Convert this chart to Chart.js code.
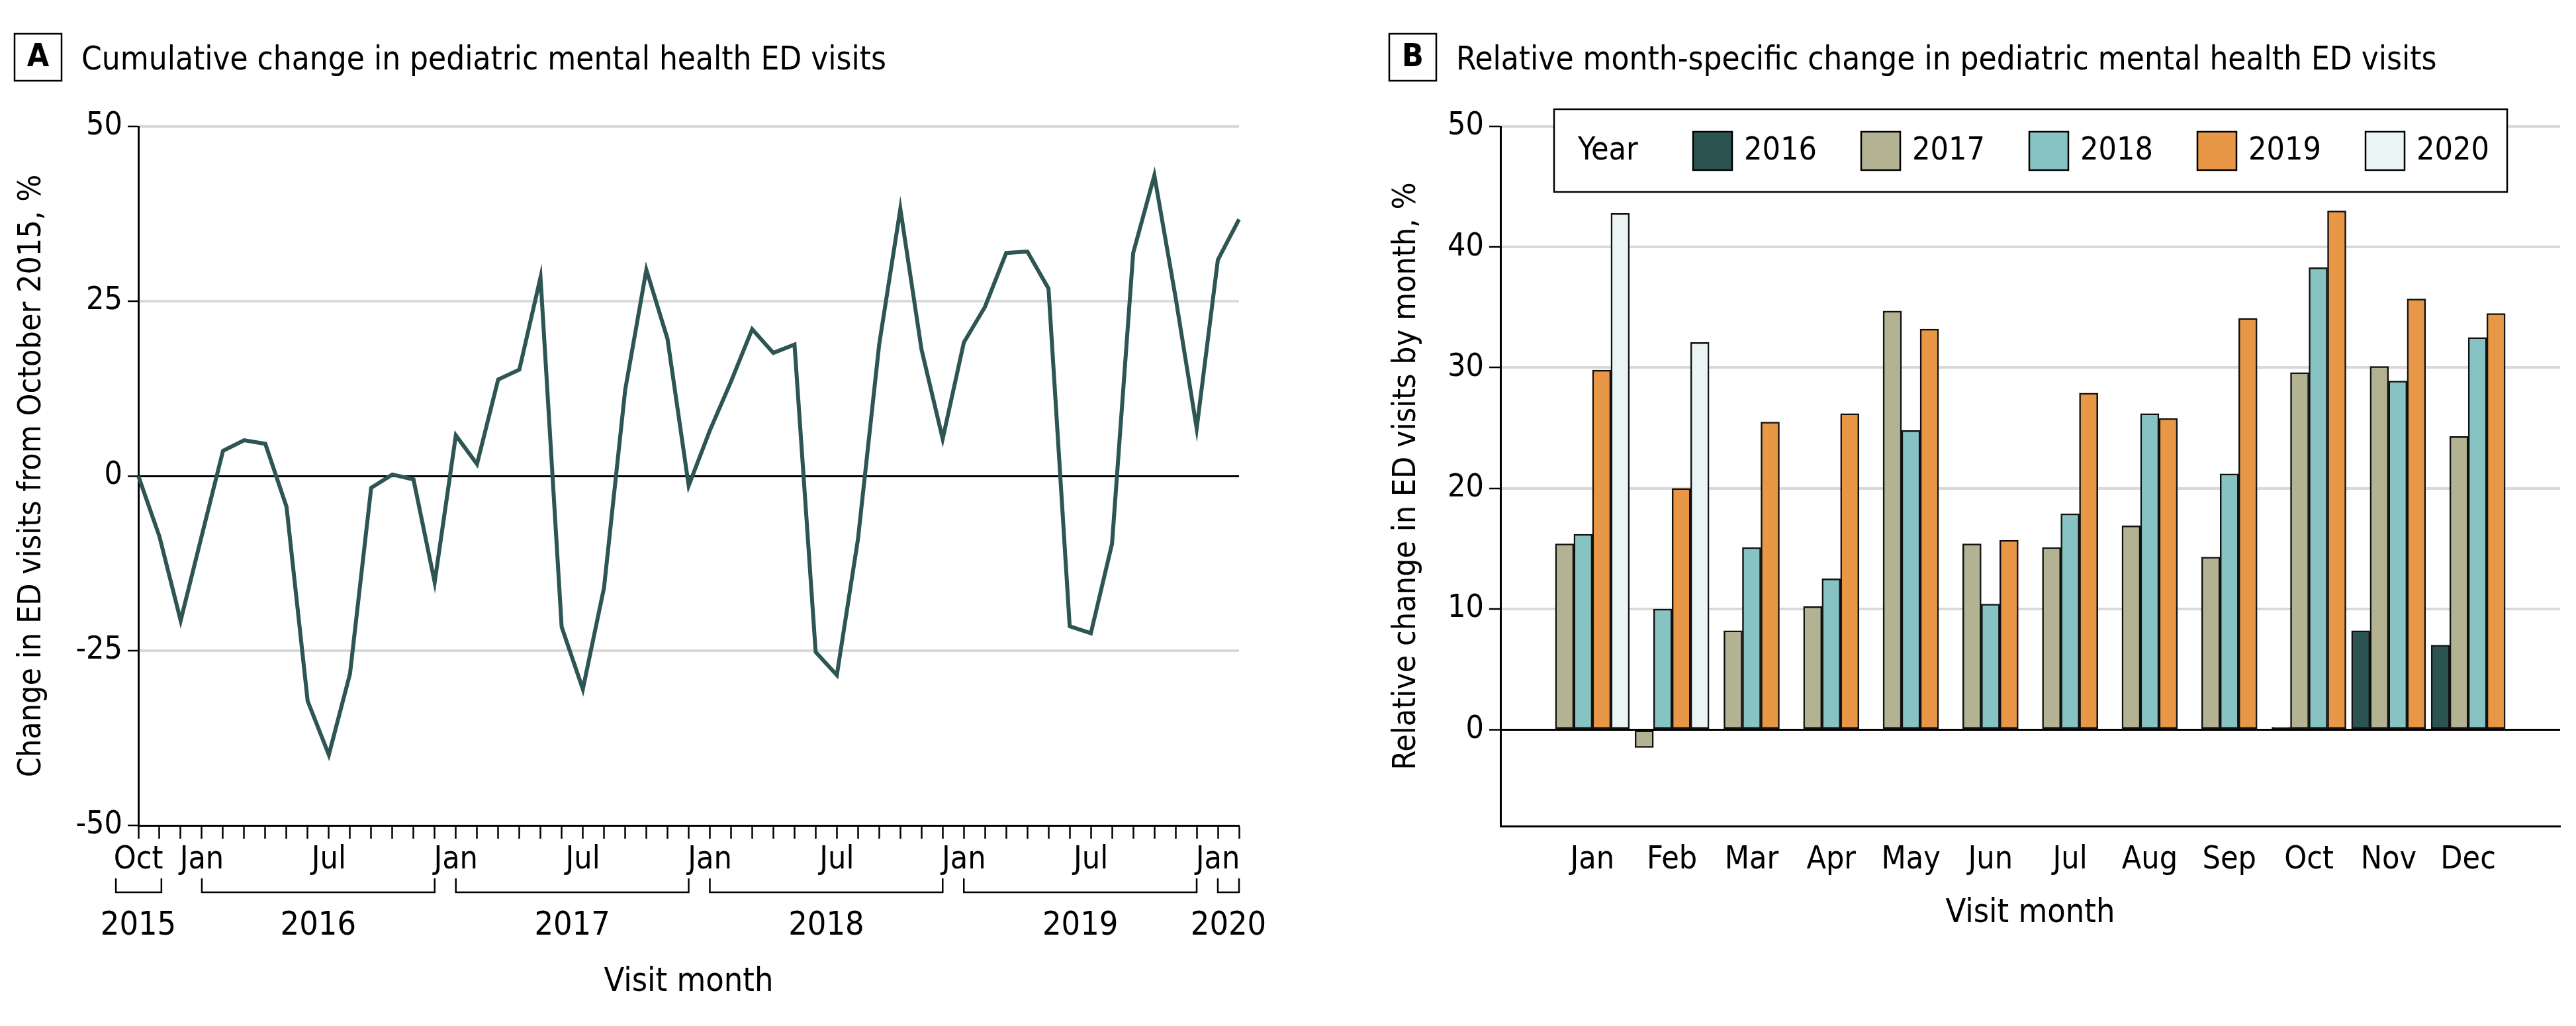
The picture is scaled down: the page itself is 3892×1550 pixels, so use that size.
<!DOCTYPE html>
<html>
<head>
<meta charset="utf-8">
<script src="https://cdn.jsdelivr.net/npm/chart.js@4.4.1/dist/chart.umd.min.js"></script>
<style>
  html, body { margin: 0; padding: 0; background: #fff; }
  #wrap { position: relative; width: 3892px; height: 1550px; }
  canvas { position: absolute; top: 0; }
  #cumChart { left: 0; width: 1950px; height: 1550px; }
  #monthChart { left: 1950px; width: 1942px; height: 1550px; }
</style>
</head>
<body>
<div id="wrap">
  <canvas id="cumChart" width="1950" height="1550"></canvas>
  <canvas id="monthChart" width="1942" height="1550"></canvas>
</div>
<script>
const FONT = '"Liberation Sans Narrow", "DejaVu Sans Condensed", sans-serif';
const INK = '#000';
const GRID = '#d9d9d9';

// ---- panel A: cumulative change ----
const visitMonths = [
    'Oct 2015', 'Nov 2015', 'Dec 2015',
    'Jan 2016', 'Feb 2016', 'Mar 2016', 'Apr 2016', 'May 2016', 'Jun 2016',
    'Jul 2016', 'Aug 2016', 'Sep 2016', 'Oct 2016', 'Nov 2016', 'Dec 2016',
    'Jan 2017', 'Feb 2017', 'Mar 2017', 'Apr 2017', 'May 2017', 'Jun 2017',
    'Jul 2017', 'Aug 2017', 'Sep 2017', 'Oct 2017', 'Nov 2017', 'Dec 2017',
    'Jan 2018', 'Feb 2018', 'Mar 2018', 'Apr 2018', 'May 2018', 'Jun 2018',
    'Jul 2018', 'Aug 2018', 'Sep 2018', 'Oct 2018', 'Nov 2018', 'Dec 2018',
    'Jan 2019', 'Feb 2019', 'Mar 2019', 'Apr 2019', 'May 2019', 'Jun 2019',
    'Jul 2019', 'Aug 2019', 'Sep 2019', 'Oct 2019', 'Nov 2019', 'Dec 2019',
    'Jan 2020', 'Feb 2020'
];
const cumulativeChange = [
    0, -8.7, -20.7,
    -8.5, 3.6, 5.1, 4.6, -4.4, -32.2, -39.9, -28.3, -1.7, 0.2, -0.5, -15.2,
    5.8, 1.7, 13.8, 15.2, 28.4, -21.6, -30.5, -16.0, 12.3, 29.5, 19.6, -1.4,
    6.5, 13.5, 21.0, 17.6, 18.8, -25.2, -28.5, -9.0, 18.8, 38.2, 18.1, 5.3,
    19.1, 24.2, 31.9, 32.1, 26.8, -21.5, -22.5, -9.7, 31.9, 43.0, 25.6, 6.8,
    30.9, 36.7
];
const labelledMonthsA = ['Oct 2015', 'Jan 2016', 'Jul 2016', 'Jan 2017', 'Jul 2017',
    'Jan 2018', 'Jul 2018', 'Jan 2019', 'Jul 2019', 'Jan 2020'];
const yTicksA = [-50, -25, 0, 25, 50];
const yearLabelsA = ['2015', '2016', '2017', '2018', '2019', '2020'];
// bracket ends and label centre for each year, in month-axis units
const yearSpansA = [[-1.06, 1.09], [3, 14], [15, 26], [27, 38], [39, 50], [51, 52]];
const yearCentersA = [0, 8.5, 20.5, 32.5, 44.5, 51.5];

// ---- panel B: month-specific change ----
const monthNames = ['Jan', 'Feb', 'Mar', 'Apr', 'May', 'Jun', 'Jul', 'Aug', 'Sep', 'Oct', 'Nov', 'Dec'];
const yearNames = ['2016', '2017', '2018', '2019', '2020'];
const change2016 = [null, null, null, null, null, null, null, null, null, 0.2, 8.2, 7.0];
const change2017 = [15.4, -1.5, 8.2, 10.2, 34.7, 15.4, 15.1, 16.9, 14.3, 29.6, 30.1, 24.3];
const change2018 = [16.2, 10.0, 15.1, 12.5, 24.8, 10.4, 17.9, 26.2, 21.2, 38.3, 28.9, 32.5];
const change2019 = [29.8, 20.0, 25.5, 26.2, 33.2, 15.7, 27.9, 25.8, 34.1, 43.0, 35.7, 34.5];
const change2020 = [42.8, 32.1, null, null, null, null, null, null, null, null, null, null];
const yTicksB = [0, 10, 20, 30, 40, 50];
const yearColors = ['#2b5352', '#b3b394', '#86c3c2', '#e79746', '#eaf4f4'];
const legendTitle = 'Year';

Chart.defaults.font.family = FONT;
Chart.defaults.color = INK;

// boxed panel letter plus heading
const panelTitle = {
    id: 'panelTitle',
    afterDraw(chart, args, opts) {
        const ctx = chart.ctx;
        ctx.save();
        ctx.lineWidth = 2.5;
        ctx.strokeStyle = INK;
        ctx.strokeRect(opts.boxX, 51, 71, 71);
        ctx.fillStyle = INK;
        ctx.font = 'bold 48px ' + FONT;
        ctx.textAlign = 'center';
        ctx.textBaseline = 'middle';
        ctx.fillText(opts.letter, opts.boxX + 35.5, 88);
        ctx.font = '49px ' + FONT;
        ctx.textAlign = 'left';
        ctx.textBaseline = 'alphabetic';
        ctx.fillText(opts.text, opts.textX, 105);
        ctx.restore();
    }
};

// year brackets under the month ticks of panel A
const yearBrackets = {
    id: 'yearBrackets',
    afterDraw(chart) {
        const x = chart.scales.x;
        const ctx = chart.ctx;
        ctx.save();
        ctx.strokeStyle = INK;
        ctx.lineWidth = 2.5;
        ctx.fillStyle = INK;
        ctx.font = '50px ' + FONT;
        ctx.textAlign = 'center';
        ctx.textBaseline = 'middle';
        yearSpansA.forEach(([a, b], i) => {
            const x1 = x.getPixelForValue(a);
            const x2 = x.getPixelForValue(b);
            ctx.beginPath();
            ctx.moveTo(x1, 1327);
            ctx.lineTo(x1, 1348);
            ctx.lineTo(x2, 1348);
            ctx.lineTo(x2, 1327);
            ctx.stroke();
            ctx.fillText(yearLabelsA[i], x.getPixelForValue(yearCentersA[i]), 1399);
        });
        ctx.restore();
    }
};

// boxed horizontal legend with a "Year" caption
const yearLegend = {
    id: 'yearLegend',
    afterDatasetsDraw(chart) {
        const ctx = chart.ctx;
        ctx.save();
        ctx.fillStyle = '#fff';
        ctx.fillRect(398, 165, 1440, 125);
        ctx.lineWidth = 2.5;
        ctx.strokeStyle = INK;
        ctx.strokeRect(398, 165, 1440, 125);
        ctx.font = '48px ' + FONT;
        ctx.textAlign = 'left';
        ctx.textBaseline = 'middle';
        ctx.fillStyle = INK;
        ctx.fillText(legendTitle, 434, 229);
        chart.data.datasets.forEach((ds, i) => {
            const sx = 608 + i * 254;
            ctx.fillStyle = ds.backgroundColor;
            ctx.fillRect(sx, 199, 59, 58);
            ctx.strokeRect(sx, 199, 59, 58);
            ctx.fillStyle = INK;
            ctx.fillText(ds.label, sx + 77, 229);
        });
        ctx.restore();
    }
};

const tickFont = { size: 48 };

new Chart(document.getElementById('cumChart'), {
    type: 'line',
    data: {
        labels: visitMonths,
        datasets: [{
            data: cumulativeChange,
            borderColor: '#2d5553',
            borderWidth: 6,
            pointRadius: 0,
            tension: 0,
            fill: false
        }]
    },
    options: {
        responsive: false,
        animation: false,
        devicePixelRatio: 1,
        layout: { padding: { left: 0, right: 78, top: 191, bottom: 0 } },
        plugins: {
            legend: { display: false },
            tooltip: { enabled: false },
            panelTitle: { letter: 'A', boxX: 22, textX: 123,
                text: 'Cumulative change in pediatric mental health ED visits' }
        },
        scales: {
            x: {
                offset: false,
                grid: { drawOnChartArea: false, color: INK, tickColor: INK, tickLength: 20, tickWidth: 2.5 },
                border: { display: true, color: INK, width: 3 },
                ticks: {
                    autoSkip: false, maxRotation: 0, padding: 4, font: tickFont, color: INK,
                    callback(value) {
                        const lab = this.getLabelForValue(value);
                        return labelledMonthsA.includes(lab) ? lab.split(' ')[0] : '';
                    }
                },
                title: { display: true, text: 'Visit month', font: { size: 50 }, color: INK, padding: { bottom: 36 } },
                afterFit(scale) { scale.height = 303; }
            },
            y: {
                min: -50, max: 50,
                afterBuildTicks(scale) { scale.ticks = yTicksA.map(v => ({ value: v })); },
                ticks: { padding: 8, font: tickFont, color: INK },
                grid: {
                    color: c => c.tick.value === 0 ? INK : (c.tick.value === -50 ? 'rgba(0,0,0,0)' : GRID),
                    lineWidth: c => c.tick.value === 0 ? 3 : 4,
                    tickColor: INK, tickLength: 16, tickWidth: 2.5
                },
                border: { display: true, color: INK, width: 3 },
                title: { display: true, text: 'Change in ED visits from October 2015, %',
                    font: { size: 48 }, color: INK, padding: { top: 20 } },
                afterFit(scale) { scale.width = 209; }
            }
        }
    },
    plugins: [panelTitle, yearBrackets]
});

const seriesB = [change2016, change2017, change2018, change2019, change2020];

new Chart(document.getElementById('monthChart'), {
    type: 'bar',
    data: {
        datasets: seriesB.map((vals, i) => ({
            label: yearNames[i],
            data: vals.map((v, j) => ({ x: j, y: v })),
            backgroundColor: yearColors[i],
            borderColor: '#111',
            borderWidth: 2.5,
            borderSkipped: false,
            barThickness: 28,
            skipNull: true
        }))
    },
    options: {
        responsive: false,
        animation: false,
        devicePixelRatio: 1,
        layout: { padding: { left: 0, right: 24, top: 191, bottom: 0 } },
        plugins: {
            legend: { display: false },
            tooltip: { enabled: false },
            panelTitle: { letter: 'B', boxX: 149, textX: 250,
                text: 'Relative month-specific change in pediatric mental health ED visits' }
        },
        scales: {
            x: {
                type: 'linear',
                min: -0.6, max: 11.6,
                afterBuildTicks(scale) { scale.ticks = monthNames.map((m, i) => ({ value: i })); },
                grid: { display: false, drawTicks: false },
                border: { display: true, color: INK, width: 3 },
                ticks: { padding: 23, font: tickFont, color: INK, maxRotation: 0,
                    callback: v => monthNames[v] },
                title: { display: true, text: 'Visit month', font: { size: 50 }, color: INK, padding: { bottom: 140 } },
                afterFit(scale) { scale.height = 1550 - 1248; }
            },
            y: {
                min: -8, max: 50,
                afterBuildTicks(scale) { scale.ticks = yTicksB.map(v => ({ value: v })); },
                ticks: { padding: 8, font: tickFont, color: INK },
                grid: {
                    color: c => c.tick.value === 0 ? INK : GRID,
                    lineWidth: c => c.tick.value === 0 ? 3 : 4,
                    tickColor: INK, tickLength: 17, tickWidth: 2.5
                },
                border: { display: true, color: INK, width: 3 },
                title: { display: true, text: 'Relative change in ED visits by month, %',
                    font: { size: 48 }, color: INK, padding: { top: 147 } },
                afterFit(scale) { scale.width = 317; }
            }
        }
    },
    plugins: [panelTitle, yearLegend]
});
</script>
</body>
</html>
